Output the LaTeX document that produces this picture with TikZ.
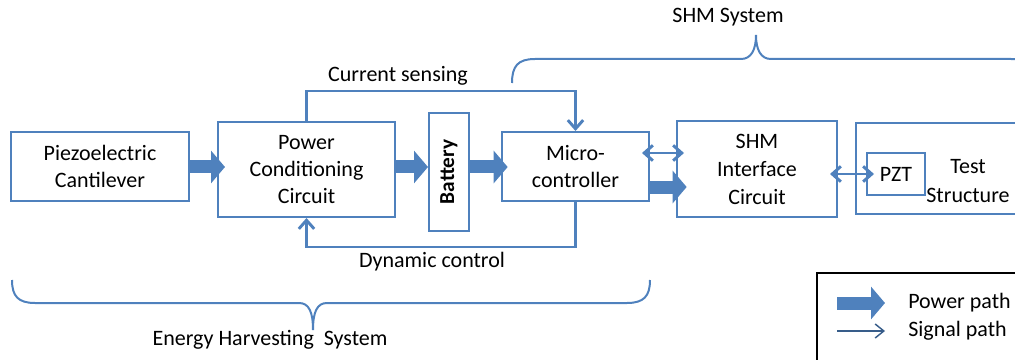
\documentclass[tikz,border=0pt]{standalone}
\usepackage{fontspec}
\setmainfont{Carlito}
\usetikzlibrary{arrows.meta}
\definecolor{blk}{RGB}{79,129,189}
\definecolor{sigdark}{RGB}{56,93,138}

\tikzset{
  blkbox/.style={draw=blk, line width=1.5pt, inner sep=0pt, align=center, text=black, font=\fontsize{16.5}{20.5}\selectfont},
  lbl/.style={inner sep=0.75pt, align=center, text=black, font=\fontsize{16.5}{20.5}\selectfont},
  sigline/.style={draw=blk, line width=2.2pt, -{Straight Barb[length=6.5pt,width=11.5pt]}},
  sigboth/.style={draw=blk, line width=2.2pt, {Straight Barb[length=6.5pt,width=11.5pt]}-{Straight Barb[length=6.5pt,width=11.5pt]}, shorten <=-6pt, shorten >=-6pt},
  sigthin/.style={draw=sigdark, line width=1.1pt, -{Straight Barb[length=6.5pt,width=10.5pt]}},
  pwrline/.style={draw=blk, line width=9.75pt, -{Triangle[length=10.5pt,width=24pt]}},
  bracepath/.style={draw=blk, line width=1.5pt}
}

\begin{document}
\begin{tikzpicture}[x=0.75pt,y=0.75pt,yscale=-1,xscale=1]
\useasboundingbox (0,0) rectangle (1015,360);
\clip (0,0) rectangle (1015,360);

\node[blkbox, minimum width=133.5pt, minimum height=51.75pt] (piezo) at (100,166.5) {Piezoelectric\\Cantilever};
\node[blkbox, minimum width=132.75pt, minimum height=71.25pt] (pcc) at (306.5,169.5) {Power\\Conditioning\\Circuit};
\node[blkbox, rotate=90, minimum width=88.5pt, minimum height=30pt, font=\fontsize{16}{19}\selectfont\bfseries] (bat) at (449,172) {Battery};
\node[blkbox, minimum width=110.25pt, minimum height=51.75pt] (micro) at (575.5,166.5) {Micro-\\controller};
\node[blkbox, minimum width=120pt, minimum height=72pt, font=\fontsize{16.5}{21}\selectfont] (shm) at (757,169) {SHM\\Interface\\Circuit};
\node[blkbox, minimum width=168pt, minimum height=68.25pt] (test) at (968,168.5) {};
\node[lbl, font=\fontsize{16.5}{21.5}\selectfont] (testtxt) at (968,181) {Test\\Structure};
\node[blkbox, minimum width=43.5pt, minimum height=31.5pt] (pzt) at (896,174) {PZT};

\coordinate (prow) at (0,167);
\coordinate (srow) at (0,153);
\coordinate (qrow) at (0,187);

\draw[pwrline, shorten >=-6pt] (piezo.east |- prow) -- (pcc.west |- prow);
\draw[pwrline] (pcc.east |- prow) -- (bat.north |- prow);
\draw[pwrline, shorten >=-5pt] (bat.south |- prow) -- (micro.west |- prow);
\draw[pwrline, shorten >=-8pt] (micro.east |- qrow) -- (shm.west |- qrow);

\draw[sigline] (pcc.north) -- ++(0,-30) -| (micro.north);
\draw[sigline] (micro.south) -- ++(0,45) -| (pcc.south);
\draw[sigboth] (micro.east |- srow) -- (shm.west |- srow);
\draw[sigboth] (shm.east |- pzt.west) -- (pzt.west);

\node[lbl] (cursense) at (398,76) {Current sensing};
\node[lbl] (dyncontrol) at (432,262) {Dynamic control};

\draw[bracepath] (512,83) .. controls (512,66) and (518,59) .. (535,59) -- (741,59) .. controls (751,59) and (756,50) .. (756,35) .. controls (756,50) and (761,59) .. (771,59) -- (1011,59) .. controls (1028,59) and (1034,66) .. (1034,83);
\node[lbl] (shmsys) at (728,17) {SHM System};

\draw[bracepath] (12,280) .. controls (12,296) and (18,303) .. (35,303) -- (299,303) .. controls (309,303) and (313,312) .. (313,330) .. controls (313,312) and (317,303) .. (327,303) -- (627,303) .. controls (644,303) and (650,296) .. (650,280);
\node[lbl] (ehsys) at (270,340) {Energy Harvesting\ \ System};

\node[draw=black, line width=1.5pt, anchor=north west, minimum width=195pt, minimum height=90pt] (legend) at (816,272) {};
\coordinate (lgpa) at (837,303);
\coordinate (lgpb) at (885,303);
\coordinate (lgsa) at (837,331);
\coordinate (lgsb) at (885,331);
\draw[pwrline] (lgpa) -- (lgpb);
\draw[sigthin] (lgsa) -- (lgsb);
\node[lbl, anchor=west] (lgpower) at (907,303) {Power path};
\node[lbl, anchor=west] (lgsignal) at (907,331) {Signal path};

\end{tikzpicture}
\end{document}
